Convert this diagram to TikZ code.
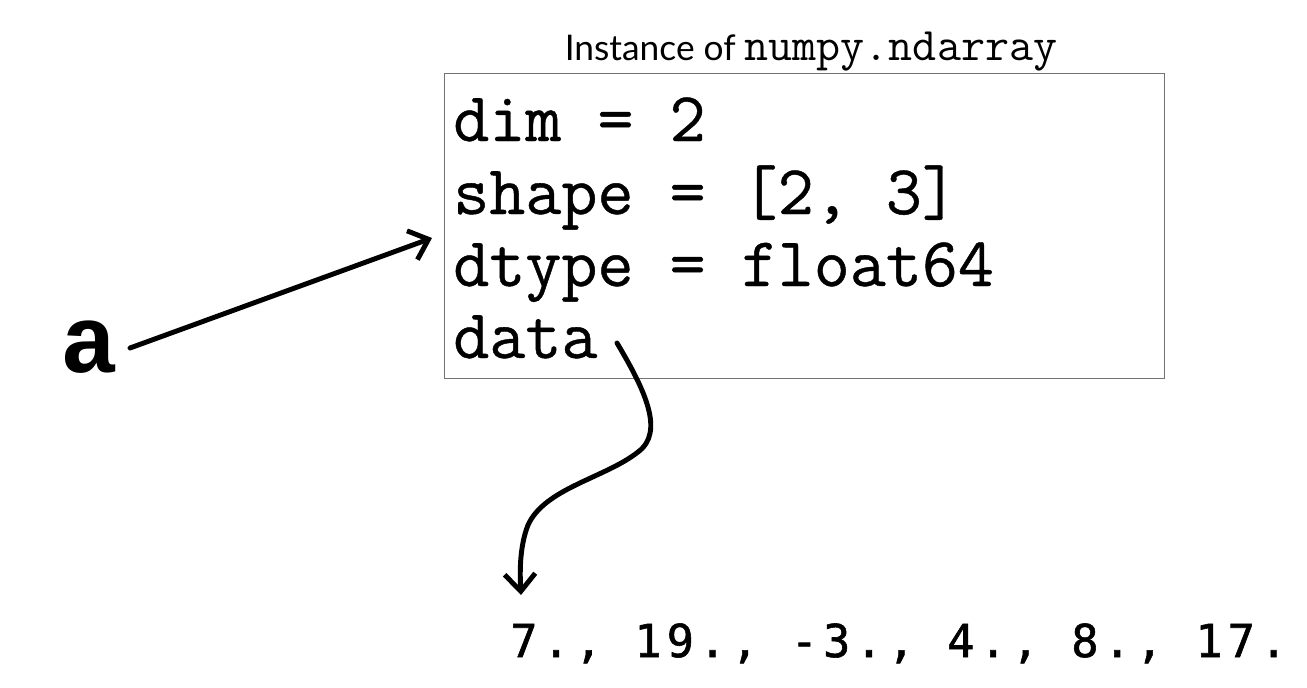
\documentclass[tikz,border=0pt]{standalone}
\usepackage{fontspec}
\newfontfamily\afont{Liberation Mono}
\newfontfamily\titlefont{Lato}
\newfontfamily\boxfont[FakeBold=0.6]{Latin Modern Mono}
\newfontfamily\valfont[LetterSpace=11,FakeBold=1.3]{DejaVu Sans Mono}
\usetikzlibrary{arrows.meta}
\tikzset{
  field/.style={anchor=base west, inner sep=0pt, font=\boxfont\fontsize{52.5}{52.5}\selectfont},
  thick arrow/.style={line width=3.7pt, line cap=round, -{Straight Barb[length=13pt,width=23pt,line width=3.7pt]}},
}
\begin{document}
\begin{tikzpicture}[x=0.75pt,y=-0.75pt]
\useasboundingbox (0,0) rectangle (1307,687);
% box
\node[draw=black!55, line width=0.9pt, minimum width=720*0.75pt, minimum height=305*0.75pt, inner sep=0pt, anchor=north west] (box) at (444,73) {};
% title
\node[anchor=base, inner sep=0pt] (title) at (811,60) {{\titlefont\fontsize{26.5}{26.5}\selectfont Instance of }{\ttfamily\fontsize{35}{35}\selectfont numpy.ndarray}};
% fields
\node[field] (dim) at (453,141) {dim = 2};
\node[field] (shape) at (453,214) {shape = [2, 3]};
\node[field] (dtype) at (453,286) {dtype = float64};
\node[field] (data) at (453,358) {data};
% variable a
\node[anchor=base west, inner sep=0pt, font=\afont\bfseries\fontsize{72}{72}\selectfont] (a) at (60,372) {a};
% values
\node[anchor=base west, inner sep=0pt, font=\valfont\fontsize{34}{34}\selectfont] (vals) at (510,657) {7., 19., -3., 4., 8., 17.};
% coordinates
\coordinate (astart) at (130,348);
\coordinate (aend) at (432,238);
\coordinate (dstart) at (617,343);
\coordinate (dend) at (521,595);
\draw[thick arrow] (astart) -- (aend);
\draw[thick arrow] (dstart) .. controls (645,390) and (665,432) .. (638,452)
  .. controls (605,478) and (545,488) .. (528,525)
  .. controls (519,548) and (520,575) .. (dend);
\end{tikzpicture}
\end{document}
